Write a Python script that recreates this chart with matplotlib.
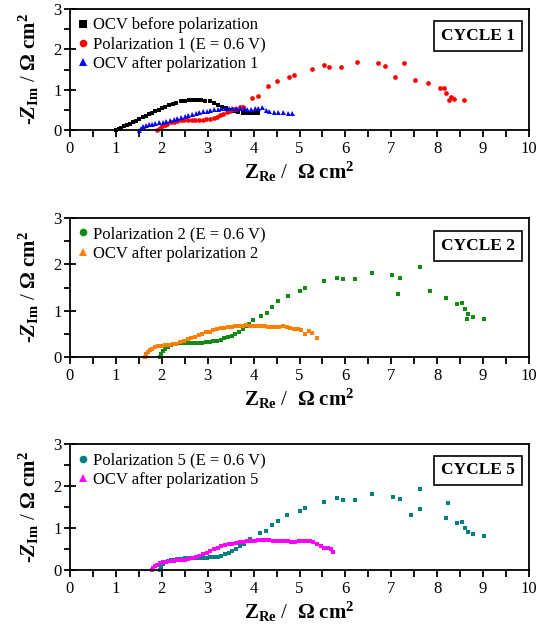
import matplotlib
matplotlib.use("Agg")
import matplotlib.pyplot as plt
from matplotlib.lines import Line2D
from matplotlib.ticker import MultipleLocator

# ---------------- data ----------------
# Cycle 1
ocv_before_x = [1.00,1.06,1.12,1.18,1.24,1.30,1.37,1.44,1.51,1.58,1.65,1.72,1.79,1.86,1.93,2.00,2.08,2.16,2.24,2.32,
                2.41,2.50,2.59,2.68,2.77,2.86,2.95,3.04,3.13,3.22,3.31,3.40,3.49,3.58,3.67,3.76,3.85,3.94,4.03,4.10]
ocv_before_y = [0.00,0.03,0.06,0.09,0.12,0.15,0.19,0.23,0.27,0.31,0.35,0.39,0.43,0.47,0.50,0.54,0.58,0.62,0.65,0.68,
                0.71,0.73,0.74,0.75,0.75,0.74,0.73,0.71,0.67,0.62,0.58,0.54,0.50,0.47,0.44,0.42,0.41,0.41,0.41,0.42]

pol1_x = [1.90,1.95,2.00,2.06,2.12,2.19,2.26,2.33,2.41,2.49,2.57,2.65,2.73,2.81,2.89,2.97,3.05,3.13,3.20,3.27,
          3.34,3.41,3.48,3.55,3.62,3.70,
          3.77,3.96,4.10,4.32,4.50,4.77,4.88,5.28,5.54,5.65,5.91,6.26,6.70,6.86,7.09,7.28,7.52,7.81,8.06,8.15,
          8.20,8.26,8.29,8.37,8.58]
pol1_y = [0.00,0.05,0.09,0.13,0.16,0.19,0.21,0.23,0.24,0.25,0.25,0.25,0.25,0.25,0.26,0.27,0.28,0.30,0.33,0.36,
          0.40,0.44,0.48,0.51,0.53,0.56,
          0.58,0.79,0.85,1.08,1.21,1.31,1.37,1.51,1.60,1.56,1.56,1.69,1.65,1.59,1.32,1.66,1.24,1.17,1.03,1.05,
          0.92,0.74,0.83,0.77,0.74]

ocv_after1_x = [1.50,1.55,1.60,1.66,1.72,1.79,1.86,1.94,2.02,2.10,2.18,2.26,2.34,2.42,2.50,2.58,2.66,2.74,2.82,2.90,
                2.98,3.06,3.14,3.22,3.30,3.38,3.46,3.54,3.62,3.70,3.78,3.86,3.94,4.02,4.10,4.18,4.26,4.34,4.44,4.54,
                4.64,4.74,4.84]
ocv_after1_y = [0.00,0.05,0.09,0.12,0.14,0.16,0.18,0.19,0.21,0.23,0.25,0.27,0.29,0.32,0.35,0.37,0.40,0.42,0.44,0.46,
                0.48,0.50,0.52,0.53,0.54,0.55,0.55,0.55,0.55,0.55,0.54,0.53,0.53,0.54,0.55,0.56,0.50,0.46,0.45,0.45,
                0.44,0.43,0.42]

# Cycle 2
pol2_x = [1.96,1.99,2.03,2.08,2.13,2.19,2.25,2.32,2.40,2.48,2.56,2.64,2.72,2.80,2.88,2.96,3.04,3.12,3.20,3.28,
          3.36,3.44,3.52,3.60,3.68,3.76,3.84,3.90,
          3.99,4.16,4.30,4.40,4.54,4.74,5.02,5.13,5.53,5.82,5.94,6.20,6.58,7.02,7.15,7.19,7.63,7.85,8.20,8.44,
          8.54,8.61,8.66,8.67,8.78,9.01]
pol2_y = [0.00,0.07,0.13,0.18,0.22,0.25,0.27,0.29,0.30,0.31,0.31,0.31,0.31,0.31,0.31,0.32,0.33,0.34,0.35,0.37,
          0.40,0.43,0.46,0.50,0.55,0.60,0.66,0.71,
          0.80,0.89,0.94,1.07,1.20,1.32,1.43,1.49,1.63,1.71,1.68,1.68,1.82,1.77,1.36,1.70,1.94,1.43,1.28,1.14,
          1.16,1.03,0.83,0.93,0.87,0.83]

ocv_after2_x = [1.63,1.66,1.70,1.74,1.79,1.85,1.92,2.00,2.08,2.16,2.24,2.32,2.40,2.48,2.56,2.64,2.72,2.80,2.88,2.96,
                3.04,3.12,3.20,3.28,3.36,3.44,3.52,3.60,3.68,3.76,3.84,3.92,4.00,4.08,4.16,4.24,4.32,4.40,4.48,4.56,
                4.64,4.72,4.80,4.88,4.96,5.04,5.12,5.20,5.28,5.39]
ocv_after2_y = [0.00,0.06,0.11,0.15,0.18,0.21,0.23,0.24,0.25,0.26,0.27,0.29,0.32,0.35,0.38,0.41,0.44,0.47,0.50,0.53,
                0.55,0.58,0.60,0.62,0.63,0.64,0.65,0.66,0.67,0.67,0.68,0.67,0.67,0.66,0.66,0.66,0.65,0.65,0.65,0.65,
                0.66,0.65,0.63,0.61,0.60,0.58,0.50,0.57,0.51,0.41]

# Cycle 5
pol5_x = [1.96,1.99,2.03,2.08,2.13,2.19,2.26,2.34,2.42,2.50,2.58,2.66,2.74,2.82,2.90,2.98,3.06,3.14,3.22,3.30,
          3.38,3.46,3.54,3.62,3.70,3.78,3.86,3.92,
          4.14,4.28,4.40,4.54,4.73,5.01,5.12,5.53,5.81,5.94,6.20,6.58,7.03,7.19,7.42,7.63,7.63,8.20,8.24,8.44,
          8.54,8.61,8.67,8.78,9.01]
pol5_y = [0.00,0.08,0.14,0.18,0.21,0.23,0.25,0.26,0.27,0.28,0.28,0.28,0.28,0.28,0.29,0.29,0.30,0.31,0.32,0.34,
          0.37,0.41,0.46,0.51,0.57,0.63,0.69,0.75,
          0.87,0.94,1.06,1.17,1.31,1.40,1.47,1.61,1.71,1.67,1.67,1.81,1.75,1.69,1.32,1.46,1.94,1.25,1.59,1.13,
          1.15,1.01,0.91,0.86,0.82]

ocv_after5_x = [1.78,1.81,1.85,1.90,1.96,2.03,2.10,2.18,2.26,2.34,2.42,2.50,2.58,2.66,2.74,2.82,2.90,2.98,3.06,3.14,
                3.22,3.30,3.38,3.46,3.54,3.62,3.70,3.78,3.86,3.94,4.02,4.10,4.18,4.26,4.34,4.42,4.50,4.58,4.66,4.74,
                4.82,4.90,4.98,5.06,5.14,5.22,5.30,5.38,5.46,5.54,5.62,5.68,5.73]
ocv_after5_y = [0.00,0.05,0.10,0.13,0.16,0.18,0.20,0.21,0.22,0.23,0.24,0.25,0.26,0.28,0.30,0.33,0.37,0.41,0.45,0.49,
                0.53,0.56,0.59,0.61,0.63,0.65,0.66,0.67,0.68,0.69,0.70,0.71,0.71,0.71,0.71,0.70,0.70,0.70,0.69,0.68,
                0.67,0.67,0.68,0.69,0.70,0.70,0.66,0.62,0.58,0.52,0.53,0.50,0.44]

x_ticks = list(range(0, 11))
y_ticks = [0, 1, 2, 3]

# ---------------- style ----------------
plt.rcParams['font.family'] = ['Liberation Serif', 'DejaVu Serif']
plt.rcParams['mathtext.fontset'] = 'custom'
plt.rcParams['mathtext.rm'] = 'Liberation Serif'
plt.rcParams['mathtext.it'] = 'Liberation Serif:italic'
plt.rcParams['mathtext.bf'] = 'Liberation Serif:bold'
plt.rcParams['mathtext.bfit'] = 'Liberation Serif:bold:italic'

W, H = 542, 631
fig = plt.figure(figsize=(W / 100, H / 100), dpi=100)

def px_axes(left, top, right, bottom):
    return fig.add_axes([left / W, 1 - bottom / H, (right - left) / W, (bottom - top) / H])

panels = [
    dict(box=(70, 9, 529, 130), cycle="CYCLE 1", cy=0.775,
         series=[(ocv_before_x, ocv_before_y, 'black', 's', 2.9, 'OCV before polarization', 's'),
                 (pol1_x, pol1_y, '#ff0000', 'o', 3.4, 'Polarization 1 (E = 0.6 V)', 'o'),
                 (ocv_after1_x, ocv_after1_y, '#0000ff', '^', 3.6, 'OCV after polarization 1', '^')]),
    dict(box=(70, 218, 529, 357), cycle="CYCLE 2", cy=0.80,
         series=[(pol2_x, pol2_y, '#138a13', 's', 3.0, 'Polarization 2 (E = 0.6 V)', 'o'),
                 (ocv_after2_x, ocv_after2_y, '#ff8000', 's', 3.0, 'OCV after polarization 2', '^')]),
    dict(box=(70, 444, 529, 570), cycle="CYCLE 5", cy=0.79,
         series=[(pol5_x, pol5_y, '#008080', 's', 3.0, 'Polarization 5 (E = 0.6 V)', 'o'),
                 (ocv_after5_x, ocv_after5_y, '#ff00ff', 's', 3.0, 'OCV after polarization 5', '^')]),
]

for p in panels:
    ax = px_axes(*p['box'])
    handles = []
    for xs, ys, col, mk, ms, lab, lmk in p['series']:
        ax.plot(xs, ys, linestyle='none', marker=mk, markersize=ms, color=col,
                markeredgewidth=0, clip_on=False)
        handles.append(Line2D([], [], linestyle='none', marker=lmk, markersize=5.5,
                              color=col, markeredgewidth=0, label=lab))
    ax.set_xlim(0, 10)
    ax.set_ylim(0, 3)
    ax.set_xticks(x_ticks)
    ax.xaxis.set_minor_locator(MultipleLocator(0.5))
    ax.set_yticks(y_ticks)
    ax.yaxis.set_minor_locator(MultipleLocator(0.5))
    ax.tick_params(axis='x', which='both', direction='out', length=5, width=1.3, labelsize=12, pad=3)
    ax.tick_params(axis='y', which='major', direction='inout', length=8, width=1.3, labelsize=12, pad=2)
    ax.tick_params(axis='y', which='minor', direction='out', length=4, width=1.3)
    for s in ax.spines.values():
        s.set_linewidth(1.3)
    ax.set_xlabel(r'$\mathbf{Z_{Re}}$ /  $\mathbf{\Omega\ cm^2}$', fontsize=15, labelpad=2)
    ax.set_ylabel(r'-$\boldsymbol{Z}_{\mathbf{Im}}$ / $\mathbf{\Omega\ cm^2}$', fontsize=15, labelpad=9)
    leg = ax.legend(handles=handles, loc='upper left', frameon=False, fontsize=12,
                    handlelength=0.6, handletextpad=0.3, labelspacing=0.2,
                    borderaxespad=0.15, borderpad=0.35)
    ax.text(0.97, p['cy'], p['cycle'], transform=ax.transAxes, ha='right', va='center',
            fontsize=12.5, fontweight='bold',
            bbox=dict(boxstyle='square,pad=0.4', facecolor='white', edgecolor='black', linewidth=1.2))

fig.savefig('out.png', dpi=100)
